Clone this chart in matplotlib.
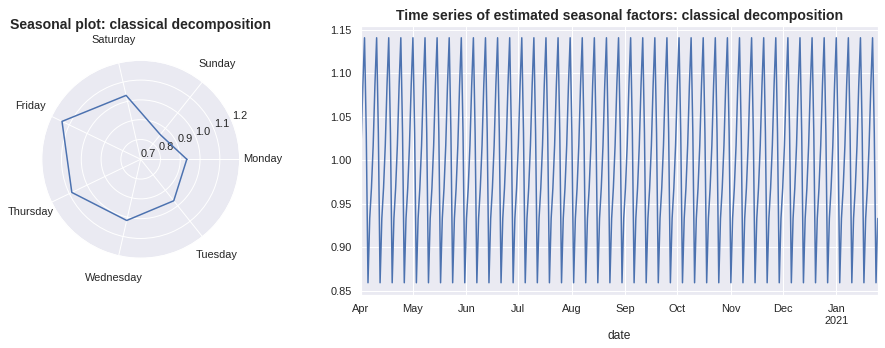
import numpy as np
import pandas as pd
import matplotlib
matplotlib.use('Agg')
import matplotlib.pyplot as plt
import seaborn as sns

sns.set_theme(style='darkgrid')
plt.rcParams['font.family'] = ['Liberation Sans', 'DejaVu Sans']

# Sezonowe czynniki (dekompozycja klasyczna)
days = ['Monday', 'Tuesday', 'Wednesday', 'Thursday', 'Friday', 'Saturday', 'Sunday']
factors = [0.933, 0.968, 1.017, 1.086, 1.141, 1.031, 0.859]
radial_ticks = [0.7, 0.8, 0.9, 1.0, 1.1, 1.2]

start_date = '2020-04-01'
end_date = '2021-01-25'

# Szereg dzienny - kazdy dzien dostaje czynnik swojego dnia tygodnia
dates = pd.date_range(start_date, end_date, freq='D', name='date')
seasonal = pd.Series([factors[d.weekday()] for d in dates], index=dates)

fig = plt.figure(figsize=(885 / 72, 348 / 72), dpi=72)

# --- wykres biegunowy ---
ax1 = fig.add_axes([0.0471, 0.2578, 0.2237, 0.569], projection='polar')
angles = np.linspace(0, 2 * np.pi, len(days), endpoint=False)
ax1.plot(np.append(angles, angles[0]), factors + [factors[0]], color='#4C72B0', lw=1.5)
ax1.set_theta_direction(-1)
ax1.set_xticks(angles)
ax1.set_xticklabels(days)
ax1.tick_params(axis='x', pad=10)
ax1.set_ylim(radial_ticks[0], radial_ticks[-1])
ax1.set_yticks(radial_ticks)
ax1.set_yticklabels([f'{t:.1f}' for t in radial_ticks])
ax1.set_rlabel_position(-22.5)
ax1.set_title('Seasonal plot: classical decomposition', fontsize=14, fontweight='bold')

# --- szereg czasowy ---
ax2 = fig.add_axes([0.408, 0.1523, 0.5838, 0.7744])
seasonal.plot(ax=ax2, color='#4C72B0', lw=1.5)
ax2.set_title('Time series of estimated seasonal factors: classical decomposition',
              fontsize=14, fontweight='bold')

fig.savefig('out.png', dpi=72)
